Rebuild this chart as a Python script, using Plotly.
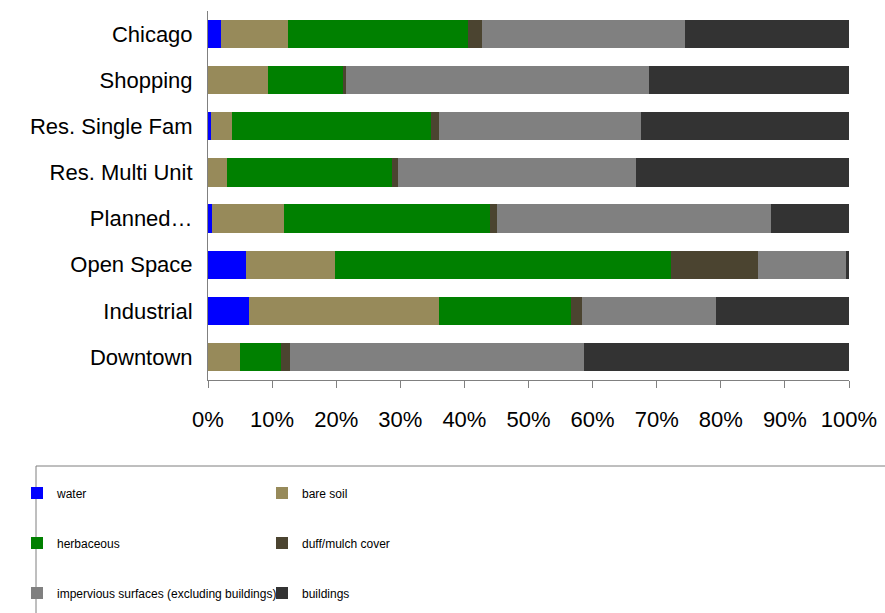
import plotly.graph_objects as go

categories = ["Chicago", "Shopping", "Res. Single Fam", "Res. Multi Unit",
              "Planned…", "Open Space", "Industrial", "Downtown"]

water      = [2.0, 0.0, 0.5, 0.0, 0.7, 6.0, 6.4, 0.0]
bare_soil  = [10.5, 9.3, 3.3, 3.0, 11.1, 13.8, 29.6, 5.0]
herbaceous = [28.0, 11.9, 31.0, 25.7, 32.2, 52.4, 20.6, 6.4]
duff_mulch = [2.2, 0.3, 1.2, 0.9, 1.1, 13.6, 1.7, 1.4]
impervious = [31.7, 47.3, 31.5, 37.1, 42.7, 13.7, 21.0, 45.9]
buildings  = [25.6, 31.2, 32.5, 33.3, 12.2, 0.5, 20.7, 41.3]

series = [
    ("water", water, "#0000FF", "legend"),
    ("bare soil", bare_soil, "#978A5A", "legend"),
    ("herbaceous", herbaceous, "#008000", "legend2"),
    ("duff/mulch cover", duff_mulch, "#4B4430", "legend2"),
    ("impervious surfaces (excluding buildings)", impervious, "#808080", "legend3"),
    ("buildings", buildings, "#333333", "legend3"),
]

W, H = 885, 613
L, R, T, B = 208, 36, 11, 233
ph = H - T - B
pw = W - L - R

def py(y):
    return (H - B - y) / ph

def px(x):
    return (x - L) / pw

fig = go.Figure()
for name, vals, color, lg in series:
    fig.add_trace(go.Bar(
        y=categories, x=vals, name=name, orientation="h",
        marker=dict(color=color, line=dict(width=0)),
        legend=lg,
    ))

legend_font = dict(family="Liberation Sans, Arial", size=12, color="#000000")
leg_common = dict(orientation="h", xref="paper", yref="paper", xanchor="left",
                  yanchor="middle", x=px(17), font=legend_font,
                  entrywidth=200, entrywidthmode="pixels", itemwidth=30,
                  bgcolor="rgba(0,0,0,0)", borderwidth=0, traceorder="normal")

fig.update_layout(
    width=W, height=H,
    margin=dict(l=L, r=R, t=T, b=B, autoexpand=False),
    paper_bgcolor="white", plot_bgcolor="white",
    barmode="stack", bargap=0.39,
    font=dict(family="Liberation Sans, Arial", color="#000000"),
    legend=dict(leg_common, y=py(493)),
    legend2=dict(leg_common, y=py(543)),
    legend3=dict(leg_common, y=py(593)),
    xaxis=dict(range=[0, 100], dtick=10, tick0=0, ticksuffix="%",
               showgrid=False, zeroline=False, showline=True,
               linecolor="#808080", linewidth=1,
               ticks="outside", ticklen=7, tickcolor="#808080",
               tickfont=dict(size=22, color="#000000"),
               ticklabelstandoff=13),
    yaxis=dict(categoryorder="array", categoryarray=categories,
               autorange="reversed", showgrid=False, zeroline=False,
               showline=True, linecolor="#808080", linewidth=1,
               ticks="", tickfont=dict(size=22, color="#000000"),
               ticklabelstandoff=10),
    shapes=[dict(type="rect", xref="paper", yref="paper",
                 x0=px(36), x1=px(W + 10), y0=py(466), y1=py(H + 10),
                 line=dict(color="#7F7F7F", width=1), fillcolor="rgba(0,0,0,0)")],
)

fig.write_html("out.html")
